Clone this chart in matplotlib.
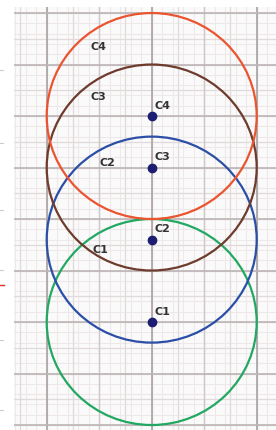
import numpy as np
import matplotlib
matplotlib.use("Agg")
import matplotlib.pyplot as plt
from matplotlib.patches import Circle
from matplotlib.lines import Line2D

# ---- data ----
labels = ["C1", "C2", "C3", "C4"]
center_x = [0.0, 0.0, 0.0, 0.0]
center_y = [0.0, 1.6, 3.0, 4.0]
radii = [2.0, 2.0, 2.0, 2.0]

# ---- style ----
colors = ["#22a862", "#2b4fa6", "#6e3b2c", "#ea5530"]
label_offsets = [(-0.98, 1.40), (-0.85, 1.49), (-1.02, 1.37), (-1.02, 1.34)]

W, H = 276, 430
fig = plt.figure(figsize=(W / 100, H / 100), dpi=100)
fig.patch.set_facecolor("white")

ax = fig.add_axes([14 / W, 0, 1 - 14 / W, 423 / H])
ax.set_facecolor("#fafafa")
x0, x1 = -2.623, 2.368
y0, y1 = -2.097, 6.117
ax.set_xlim(x0, x1)
ax.set_ylim(y0, y1)
for s in ax.spines.values():
    s.set_visible(False)
ax.set_xticks([])
ax.set_yticks([])

# graph paper grid
for v in np.arange(-2.6, 2.41, 0.2):
    ax.axvline(v, color="#efe8e8", lw=0.8, zorder=0)
for v in np.arange(-2.0, 6.2, 0.2):
    ax.axhline(v, color="#efe8e8", lw=0.8, zorder=0)
for v in np.arange(-2.5, 2.6, 0.5):
    ax.axvline(v, color="#e2dada", lw=0.9, zorder=0)
for v in np.arange(-2.0, 6.2, 0.5):
    ax.axhline(v, color="#e2dada", lw=0.9, zorder=0)
for v in [-1, 1]:
    ax.axvline(v, color="#d0c8c8", lw=1.0, zorder=0)
for v in [-2, 0, 2]:
    ax.axvline(v, color="#aaa2a2", lw=1.2, zorder=0)
for v in range(-2, 7):
    ax.axhline(v, color="#bdb5b5", lw=1.2, zorder=0)

# circles
for cx, cy, r, c in zip(center_x, center_y, radii, colors):
    ax.add_patch(Circle((cx, cy), r, fill=False, edgecolor=c, lw=1.6, zorder=3))

# centers
ax.plot(center_x, center_y, "o", color="#1c1c72", ms=6, zorder=5)

for lab, cx, cy, (ox, oy) in zip(labels, center_x, center_y, label_offsets):
    ax.text(cx + 0.2, cy + 0.2, lab, fontsize=8, fontweight="bold",
            color="#333333", ha="center", va="center", zorder=6)
    ax.text(cx + ox, cy + oy, lab, fontsize=8, fontweight="bold",
            color="#333333", ha="center", va="center", zorder=6)

# left page edge marks
for py in [70, 143, 210, 270, 340, 410]:
    fig.add_artist(Line2D([0, 3 / W], [1 - py / H, 1 - py / H],
                          color="#cccccc", lw=0.8))
fig.add_artist(Line2D([0, 4 / W], [1 - 285 / H, 1 - 285 / H],
                      color="#e03030", lw=1.0))

fig.savefig("out.png", dpi=100)
